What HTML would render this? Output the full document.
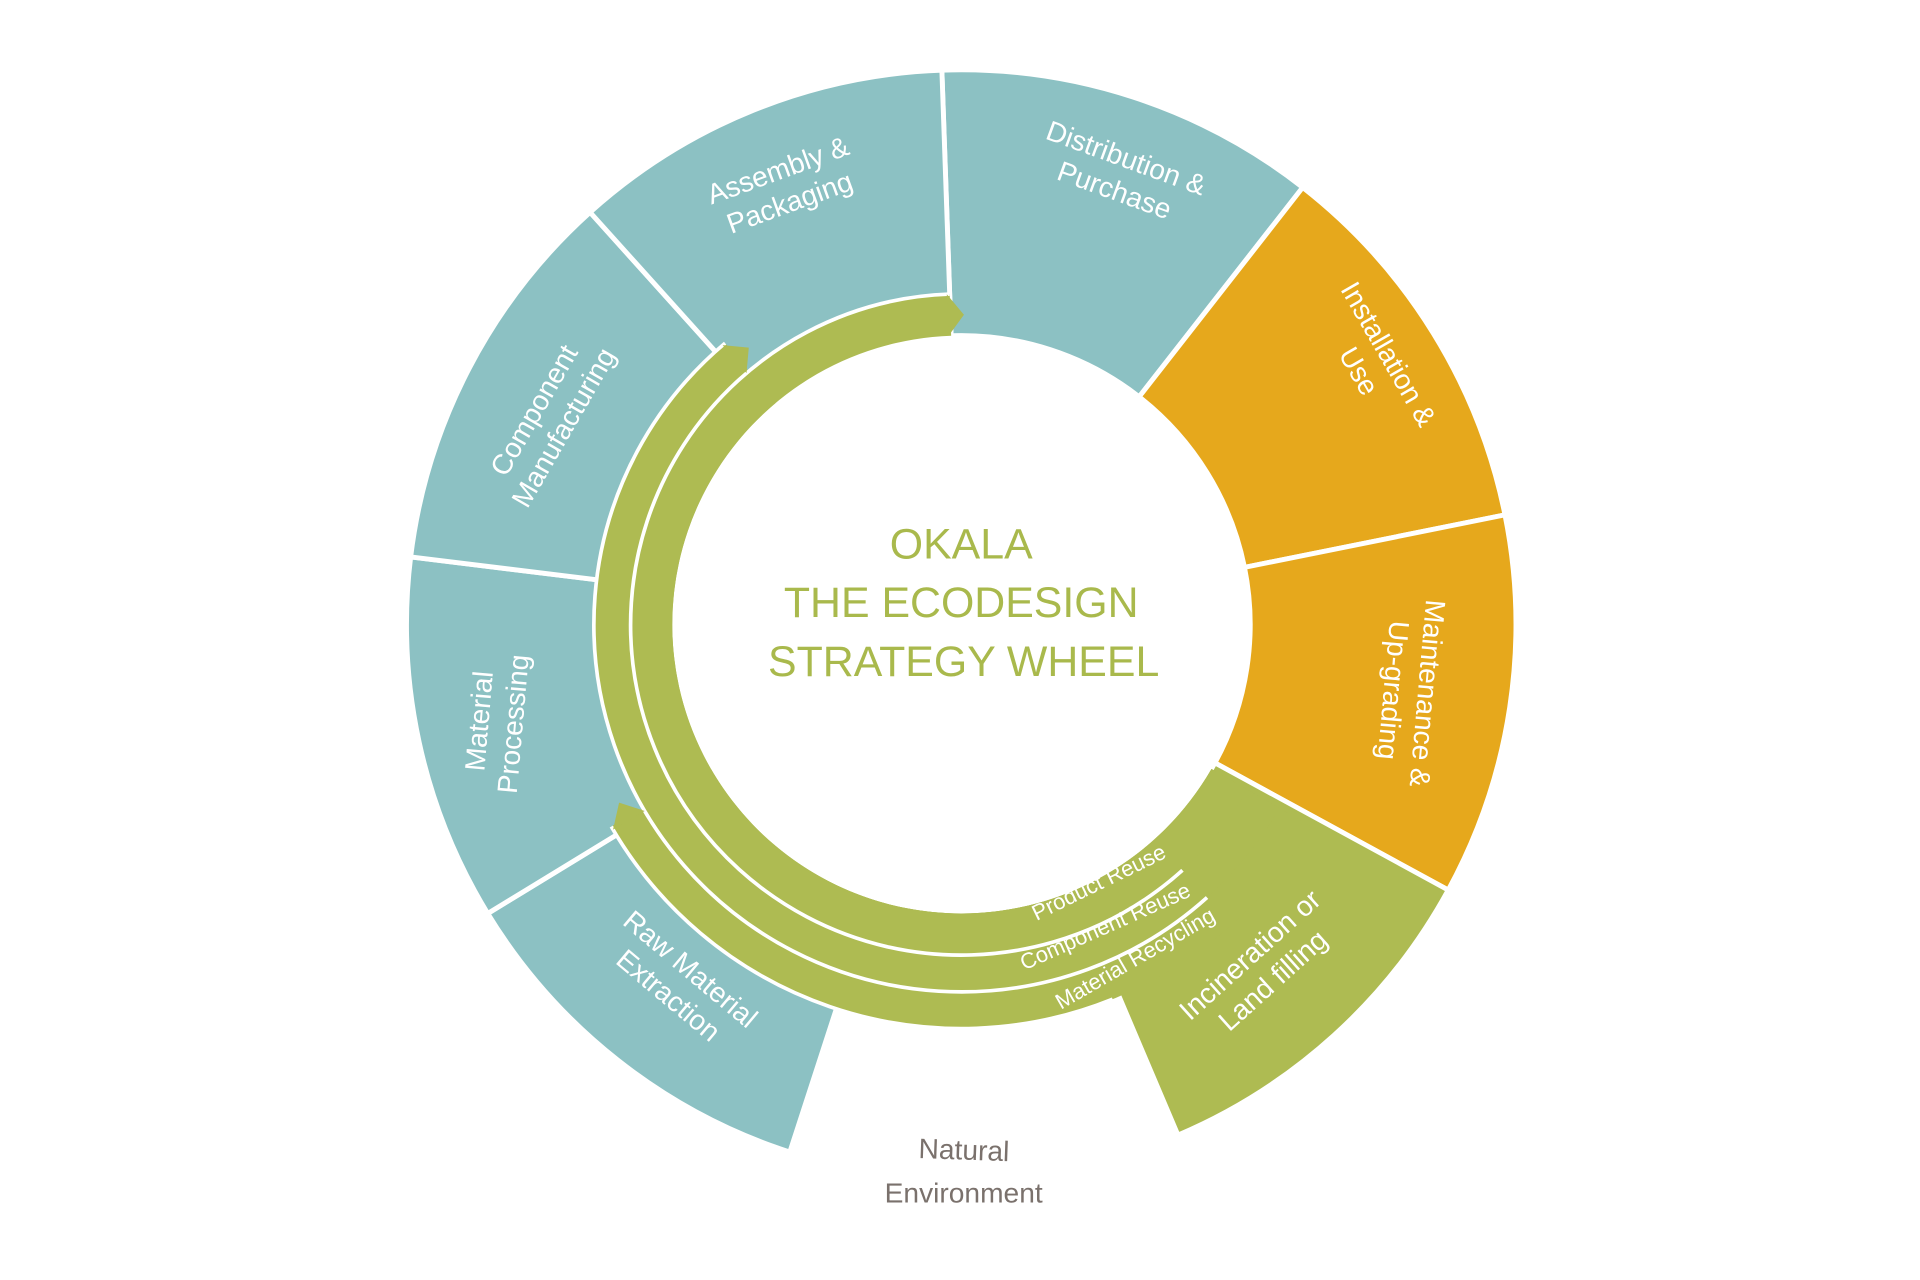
<!DOCTYPE html>
<html><head><meta charset="utf-8"><style>
html,body{margin:0;padding:0;background:#fff;}
svg{display:block}
text{font-family:"Liberation Sans",sans-serif;}
</style></head><body>
<svg id="s" width="1920" height="1280" viewBox="0 0 1568 1045.3" xmlns="http://www.w3.org/2000/svg">
<g id="g"></g>
<g fill="#fff" font-size="23" text-anchor="middle">
<g transform="translate(640,152) rotate(-20)"><text y="-6">Assembly &amp;</text><text y="22">Packaging</text></g>
<g transform="translate(915,142) rotate(20)"><text y="-6">Distribution &amp;</text><text y="22">Purchase</text></g>
<g transform="translate(1122,296) rotate(60)"><text y="-6">Installation &amp;</text><text y="22">Use</text></g>
<g transform="translate(1152,565) rotate(95)"><text y="-6">Maintenance &amp;</text><text y="22">Up-grading</text></g>
<g transform="translate(1030,790) rotate(-42)"><text y="-6">Incineration or</text><text y="22">Land filling</text></g>
<g transform="translate(555,802) rotate(40)"><text y="-6">Raw Material</text><text y="22">Extraction</text></g>
<g transform="translate(405,590) rotate(-85)"><text y="-6">Material</text><text y="22">Processing</text></g>
<g transform="translate(448,342) rotate(-60)"><text y="-6">Component</text><text y="22">Manufacturing</text></g>
</g>
<g fill="#fff" font-size="18" text-anchor="middle">
<text transform="translate(900,726) rotate(-26)">Product Reuse</text>
<text transform="translate(905,762) rotate(-24)">Component Reuse</text>
<text transform="translate(930,788) rotate(-30)">Material Recycling</text>
</g>
<g fill="#a9b94c" font-size="35" text-anchor="middle">
<text x="785" y="456">OKALA</text>
<text x="785" y="504">THE ECODESIGN</text>
<text x="787" y="552">STRATEGY WHEEL</text>
</g>
<g fill="#7a716c" font-size="23" text-anchor="middle">
<text x="787" y="947" transform="rotate(2 787 947)">Natural</text>
<text x="787" y="982">Environment</text>
</g>
</svg>
<script>
var cx=785,cy=510;
function P(r,a){a=a*Math.PI/180;return [cx+r*Math.sin(a),cy-r*Math.cos(a)];}
function sector(r1,r2,a1,a2){
 var l=(a2-a1)>180?1:0,p1=P(r2,a1),p2=P(r2,a2),p3=P(r1,a2),p4=P(r1,a1);
 return "M"+p1+"A"+r2+","+r2+" 0 "+l+" 1 "+p2+"L"+p3+"A"+r1+","+r1+" 0 "+l+" 0 "+p4+"Z";
}
function arc(r,a1,a2){var l=(a2-a1)>180?1:0,p1=P(r,a1),p2=P(r,a2);return "M"+p1+"A"+r+","+r+" 0 "+l+" 1 "+p2;}
var T="#8cc1c3",O="#e6a81c",G="#aebb52",h="";
function add(d,f){h+='<path d="'+d+'" fill="'+f+'" stroke="#fff" stroke-width="4"/>';}
function fill(d,f){h+='<path d="'+d+'" fill="'+f+'"/>';}
function line(d){h+='<path d="'+d+'" fill="none" stroke="#fff" stroke-width="3"/>';}
var segs=[[-2,38,T],[38,78.6,O],[78.6,118.6,O],[118.6,157,G],[198,238.6,T],[238.6,277,T],[277,318,T],[318,358,T]];
segs.forEach(function(s){add(sector(236,453,s[0],s[1]),s[2]);});
// green arcs
fill(sector(236,330,120,240),G);
fill(sector(236,300,120,320),G);
fill(sector(236,270,120,358),G);
line(arc(330,158,240));
line(arc(300,138,320));
line(arc(270,138,358));
// arrowheads
function arrow(r1,r2,a){var p1=P(r1,a),p2=P(r2,a),p3=P((r1+r2)/2,a+3);h+='<path d="M'+p1+"L"+p3+"L"+p2+'Z" fill="'+G+'"/>';}
arrow(236,270,357.5);arrow(270,300,319.5);arrow(300,330,239.5);
// white inner circle
h+='<circle cx="785" cy="510" r="235" fill="#fff"/>';
document.getElementById("g").innerHTML=h;
</script>
</body></html>
